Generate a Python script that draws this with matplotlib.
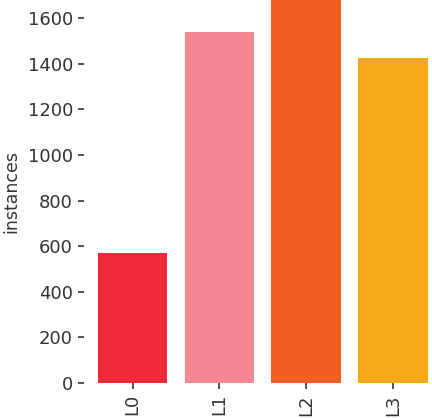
import numpy as np
import matplotlib
matplotlib.use('Agg')
import matplotlib.pyplot as plt

labels = ['L0', 'L1', 'L2', 'L3']
counts = [571, 1538, 1679, 1424]
colors = ['#EE2A3A', '#F48792', '#F05E22', '#F5A81A']

fig = plt.figure(figsize=(4.32, 4.18), dpi=100)
ax = fig.add_axes([84 / 432, 35 / 418, 348 / 432, 383 / 418])

x = np.arange(len(labels))
ax.bar(x, counts, width=0.8, color=colors)

ax.set_xlim(-0.56, 3.45)
ax.set_ylim(0, 1680)
ax.set_yticks(np.arange(0, 1601, 200))
ax.set_xticks(x)
ax.set_xticklabels(labels, rotation=90)
ax.set_ylabel('instances', fontsize=12.5, color='#333333', labelpad=5)

for s in ax.spines.values():
    s.set_visible(False)
ax.tick_params(axis='both', labelsize=13, length=4, width=1.2,
               color='#333333', labelcolor='#333333', pad=4)

fig.savefig('out.png', dpi=100)
